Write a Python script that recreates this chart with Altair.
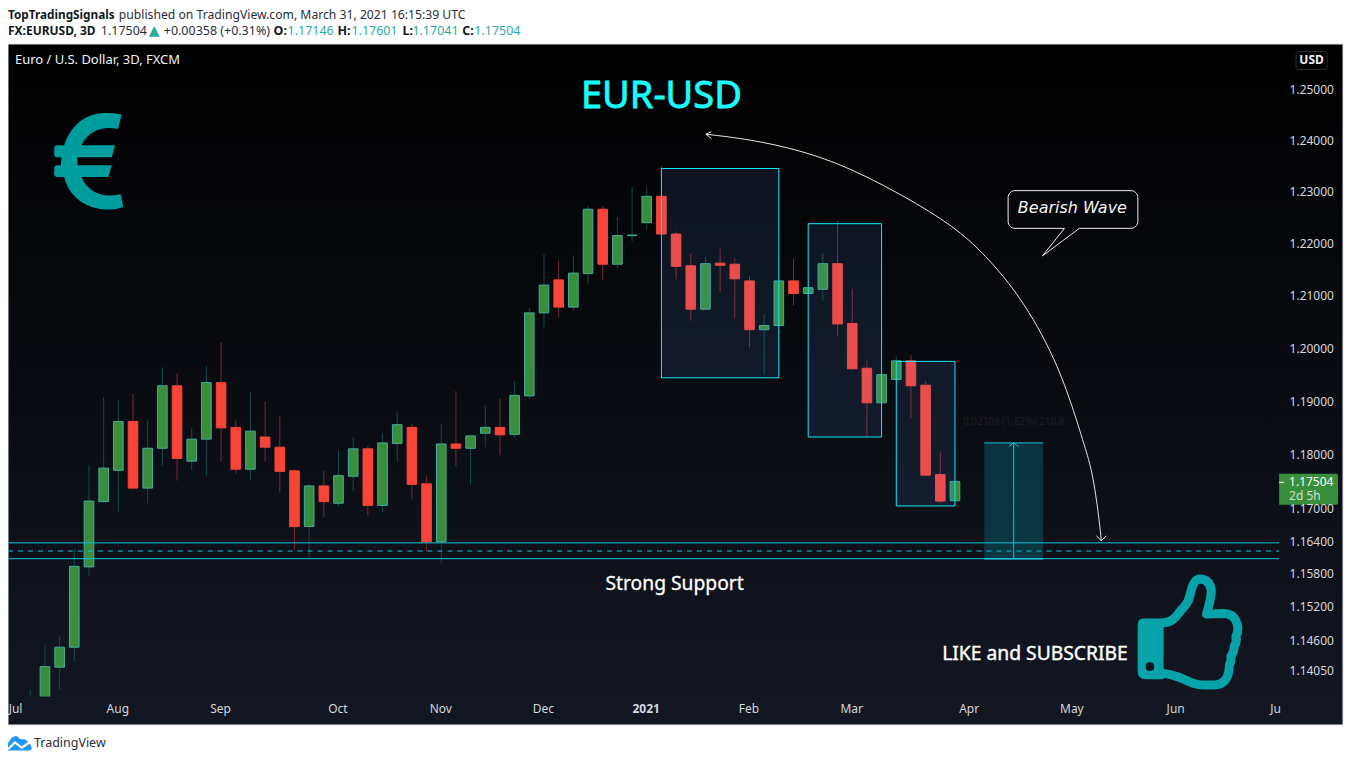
import altair as alt
import pandas as pd

# ---- candle values (3D bars, Jul 2020 - Mar 2021) ----
opens = [1.1338,1.1350,1.1411,1.1447,1.1593,1.1713,1.1771,1.1862,1.1738,1.1812,1.1929,1.1788,1.1829,1.1935,1.1851,1.1773,
         1.1833,1.1814,1.1770,1.1667,1.1742,1.1710,1.1760,1.1811,1.1706,1.1821,1.1851,1.1746,1.1639,1.1820,1.1812,1.1840,
         1.1851,1.1838,1.1910,1.2067,1.2130,1.2078,1.2142,1.2266,1.2160,1.2215,1.2240,1.2291,1.2218,1.2157,1.2074,1.2162,
         1.2160,1.2128,1.2035,1.2043,1.2128,1.2104,1.2112,1.2161,1.2047,1.1962,1.1897,1.1941,1.1976,1.1930,1.1763,1.17146]
closes = [1.1350,1.1412,1.1447,1.1594,1.1714,1.1775,1.1862,1.1738,1.1812,1.1929,1.1793,1.1829,1.1935,1.1850,1.1773,1.1844,
          1.1814,1.1769,1.1667,1.1742,1.1713,1.1761,1.1811,1.1706,1.1822,1.1856,1.1745,1.1639,1.1820,1.1812,1.1835,1.1851,
          1.1837,1.1911,1.2067,1.2120,1.2078,1.2143,1.2266,1.2160,1.2215,1.2216,1.2291,1.2218,1.2156,1.2074,1.2161,1.2158,
          1.2132,1.2035,1.2043,1.2128,1.2104,1.2115,1.2161,1.2046,1.1961,1.1897,1.1950,1.1976,1.1929,1.1762,1.1714,1.17504]
highs = [1.1371,1.1451,1.1467,1.1625,1.1781,1.1907,1.1903,1.1914,1.1864,1.1964,1.1953,1.1849,1.1966,1.2011,1.1864,1.1917,
         1.1900,1.1872,1.1773,1.1746,1.1770,1.1807,1.1832,1.1816,1.1840,1.1879,1.1858,1.1759,1.1858,1.1919,1.1837,1.1892,
         1.1905,1.1938,1.2076,1.2179,1.2167,1.2176,1.2272,1.2272,1.2251,1.2309,1.2309,1.2350,1.2223,1.2181,1.2173,1.2190,
         1.2171,1.2137,1.2065,1.2130,1.2171,1.2116,1.2181,1.2244,1.2113,1.1977,1.1950,1.1984,1.1987,1.1938,1.1806,1.1752]
lows = [1.1320,1.1330,1.1370,1.1421,1.1576,1.1710,1.1695,1.1736,1.1710,1.1780,1.1752,1.1771,1.1761,1.1787,1.1765,1.1752,
        1.1787,1.1730,1.1624,1.1608,1.1684,1.1704,1.1732,1.1688,1.1693,1.1786,1.1717,1.1621,1.1599,1.1778,1.1745,1.1814,
        1.1799,1.1832,1.1904,1.2040,1.2059,1.2071,1.2121,1.2130,1.2152,1.2204,1.2227,1.2216,1.2131,1.2052,1.2074,1.2106,
        1.2056,1.2002,1.1949,1.2040,1.2081,1.2104,1.2090,1.2024,1.1959,1.1833,1.1897,1.1941,1.1868,1.1762,1.1710,1.1714]

price_ticks = [1.25,1.24,1.23,1.22,1.21,1.20,1.19,1.18,1.17,1.164,1.158,1.152,1.146,1.1405]
time_ticks = [-1.04,5.93,12.93,20.93,27.93,34.93,41.93,48.93,55.93,63.93,70.93,78.0,84.8]
time_labels = ["Jul","Aug","Sep","Oct","Nov","Dec","2021","Feb","Mar","Apr","May","Jun","Ju"]

box_start = [43,53,59]
box_end = [51,58,63]
box_top = [1.2345,1.2238,1.1975]
box_bottom = [1.1944,1.1833,1.1705]

support_upper, support_mid, support_lower = 1.1637, 1.1622, 1.1608
measure_start, measure_mid, measure_end = 65, 67, 69
measure_top, measure_bottom = 1.1822, 1.1608

arc_x = [46.03,49.03,52.43,55.83,60.1,63.3,65.15,66.7,68.07,69.2,70.3,71.4,71.68,72.36,72.83,72.97]
arc_y = [1.2412,1.2402,1.2381,1.2347,1.2283,1.2225,1.2174,1.2124,1.2068,1.2012,1.1946,1.1856,1.1828,1.1772,1.1679,1.1641]
head1_x = [46.4,46.03,46.4]
head1_y = [1.2417,1.2412,1.2404]
head2_x = [72.63,72.97,73.3]
head2_y = [1.1650,1.1641,1.1650]
meas_head_x = [66.66,67,67.34]
meas_head_y = [1.1815,1.1822,1.1815]

bubble_x = [66.62,75.46]
bubble_y = [1.2302,1.2229]
tail_x = [70.46,68.96,71.47]
tail_y = [1.2229,1.2176,1.2229]

GREEN, GREEN_EDGE, GREEN_WICK = "#388E3C", "#45ad9f", "#0f4c4e"
RED, RED_WICK = "#F94539", "#772a30"
CYAN, BOX_EDGE, TEAL = "#12c6dc", "#14e9ff", "#009d9e"
UI_FONT = "Noto Sans"

W, H = 1273, 653
x_scale = alt.Scale(domain=[-1.517, 85.082], nice=False, zero=False, padding=0)
y_scale = alt.Scale(type="log", domain=[1.13583, 1.25889], nice=False)

def X(f, **k):
    return alt.X(f, type="quantitative", scale=x_scale, title=None, **k)
def Y(f, **k):
    return alt.Y(f, type="quantitative", scale=y_scale, title=None, **k)
def X2(f):
    return alt.X2(f)
def Y2(f):
    return alt.Y2(f)

candles = pd.DataFrame({"i": range(len(opens)), "o": opens, "c": closes, "h": highs, "l": lows})
candles["top"] = candles[["o", "c"]].max(axis=1)
candles["bot"] = candles[["o", "c"]].min(axis=1)
up = candles[candles.c >= candles.o]
down = candles[candles.c < candles.o]

one = pd.DataFrame({"a": [0]})
layers = []

# pane
layers.append(alt.Chart(one).mark_rect(
    color=alt.LinearGradient(gradient="linear", x1=0, x2=0, y1=0, y2=1,
        stops=[alt.GradientStop(color="#000000", offset=0), alt.GradientStop(color="#131722", offset=1)]),
    stroke="#dfe2ea", strokeWidth=1).encode(
    x=alt.value(0), x2=alt.value(1337), y=alt.value(-0.5), y2=alt.value(681.5)))

# header and footer text
def label(text, px, py, size=12, color="#131722", weight="normal", font=UI_FONT, align="left", style="normal"):
    return alt.Chart(one).mark_text(text=text, align=align, baseline="middle", fontSize=size, color=color,
        fontWeight=weight, font=font, fontStyle=style).encode(x=alt.value(px - 8), y=alt.value(py - 44))

num = "#2bab9c"
layers += [
    label("TopTradingSignals", 8, 14, 11.8, weight="bold"),
    label("published on TradingView.com, March 31, 2021 16:15:39 UTC", 119, 14, 12.2, "#2a2e39"),
    label("FX:EURUSD, 3D", 8, 30, 12, weight="bold"),
    label("1.17504", 101, 30, 12.5, "#2a2e39"),
    label("▲", 149, 30, 14, num, font="DejaVu Sans"),
    label("+0.00358 (+0.31%)", 164, 30, 12.5, "#2a2e39"),
    label("O:", 274, 30, 12.5, weight="bold"), label("1.17146", 288, 30, 12.5, num),
    label("H:", 338, 30, 12.5, weight="bold"), label("1.17601", 352, 30, 12.5, num),
    label("L:", 403, 30, 12.5, weight="bold"), label("1.17041", 413, 30, 12.5, num),
    label("C:", 463, 30, 12.5, weight="bold"), label("1.17504", 475, 30, 12.5, num),
    label("TradingView", 34, 744, 12.5, "#2a2e39"),
    label("Euro / U.S. Dollar, 3D, FXCM", 15, 60, 13, "#f0f3fa"),
]

# wicks (carry the axes)
x_axis = alt.Axis(values=time_ticks, grid=False, domain=False, ticks=False, labelColor="#d6d8df", labelFont=UI_FONT,
    labelFontSize=12, labelPadding=7, labelOverlap=False, labelBound=False, labelFlush=False, labelAngle=0, zindex=1,
    labelFontWeight=alt.condition("datum.value == 41.93", alt.value(700), alt.value(400)),
    labelExpr="%s[indexof(%s, datum.value)]" % (str(time_labels), str(time_ticks)))
y_axis = alt.Axis(values=price_ticks, orient="right", grid=False, domain=False, ticks=False, labelColor="#d6d8df",
    labelFont=UI_FONT, labelFontSize=12, labelPadding=10, labelOverlap=False, labelBound=False, labelFlush=False,
    format=".5f", zindex=1)
layers.append(alt.Chart(up).mark_rule(color=GREEN_WICK, strokeWidth=1, clip=True).encode(
    x=X("i", axis=x_axis), y=Y("h", axis=y_axis), y2=Y2("l")))
layers.append(alt.Chart(down).mark_rule(color=RED_WICK, strokeWidth=1, clip=True).encode(
    x=X("i"), y=Y("h"), y2=Y2("l")))

# bodies
layers.append(alt.Chart(up).mark_bar(size=9.6, clip=True, color=GREEN, stroke=GREEN_EDGE, strokeWidth=1).encode(
    x=X("i"), y=Y("top"), y2=Y2("bot")))
layers.append(alt.Chart(down).mark_bar(size=9.6, clip=True, color=RED, stroke=RED, strokeWidth=1).encode(
    x=X("i"), y=Y("top"), y2=Y2("bot")))

# support band
sup = pd.DataFrame({"a": [-1.517], "b": [85.082], "u": [support_upper], "m": [support_mid], "d": [support_lower]})
for f, dash in (("u", None), ("d", None), ("m", [5, 5])):
    kw = {"strokeDash": dash} if dash else {}
    layers.append(alt.Chart(sup).mark_rule(color=CYAN, strokeWidth=1, **kw).encode(x=X("a"), x2=X2("b"), y=Y(f)))

# bearish wave boxes
boxes = pd.DataFrame({"a": box_start, "b": box_end, "t": box_top, "d": box_bottom})
layers.append(alt.Chart(boxes).mark_rect(fill="#5ea0ff", fillOpacity=0.1, stroke=BOX_EDGE, strokeWidth=1).encode(
    x=X("a"), x2=X2("b"), y=Y("t"), y2=Y2("d")))

# measure tool
meas = pd.DataFrame({"a": [measure_start], "b": [measure_end], "m": [measure_mid], "t": [measure_top], "d": [measure_bottom]})
layers.append(alt.Chart(meas).mark_rect(fill="#00bcd4", fillOpacity=0.22).encode(
    x=X("a"), x2=X2("b"), y=Y("t"), y2=Y2("d")))
layers.append(alt.Chart(meas).mark_rule(color=CYAN, strokeWidth=1).encode(x=X("m"), y=Y("t"), y2=Y2("d")))
layers.append(alt.Chart(meas).mark_rule(color=CYAN, strokeWidth=1).encode(x=X("a"), x2=X2("b"), y=Y("t")))
layers.append(alt.Chart(meas).mark_rule(color=CYAN, strokeWidth=1.5).encode(x=X("a"), x2=X2("b"), y=Y("d")))

def polyline(xs, ys, color, width=1, interpolate=None):
    df = pd.DataFrame({"x": xs, "y": ys, "k": range(len(xs))})
    kw = {"interpolate": interpolate} if interpolate else {}
    return alt.Chart(df).mark_line(color=color, strokeWidth=width, **kw).encode(
        x=X("x"), y=Y("y"), order=alt.Order("k:Q"))

layers.append(polyline(meas_head_x, meas_head_y, CYAN))
layers.append(polyline(arc_x, arc_y, "#e6e6e6", 1, "basis"))
layers.append(polyline(head1_x, head1_y, "#e6e6e6"))
layers.append(polyline(head2_x, head2_y, "#e6e6e6"))

# callout
bub = pd.DataFrame({"a": [bubble_x[0]], "b": [bubble_x[1]], "t": [bubble_y[0]], "d": [bubble_y[1]]})
layers.append(alt.Chart(bub).mark_rect(fill="#05060a", stroke="#f0f0f0", strokeWidth=1, cornerRadius=7).encode(
    x=X("a"), x2=X2("b"), y=Y("t"), y2=Y2("d")))
gap = pd.DataFrame({"a": [tail_x[0]], "b": [tail_x[2]], "y": [tail_y[0]]})
layers.append(alt.Chart(gap).mark_rule(color="#05060a", strokeWidth=2).encode(x=X("a"), x2=X2("b"), y=Y("y")))
layers.append(polyline(tail_x, tail_y, "#f0f0f0"))

def note(text, i, p, size, color="#ffffff", font=UI_FONT, weight="normal", style="normal", thicken=0):
    df = pd.DataFrame({"x": [i], "y": [p]})
    kw = {"stroke": color, "strokeWidth": thicken} if thicken else {}
    return alt.Chart(df).mark_text(text=text, fontSize=size, color=color, font=font, fontWeight=weight,
        fontStyle=style, align="center", baseline="middle", **kw).encode(x=X("x"), y=Y("y"))

layers += [
    note("EUR-USD", 43.0, 1.2486, 38, "#17fdfd", thicken=0.8),
    note("Strong Support", 43.9, 1.1561, 19.3, thicken=0.3),
    note("LIKE and SUBSCRIBE", 68.45, 1.1434, 19.3, thicken=0.4),
    note("Bearish Wave", 71.0, 1.2268, 16, "#f5f5f5", font="DejaVu Sans", style="italic"),
    note("0.02108 (1.82%) 210.8", 67.0, 1.1861, 10, "#1b1e24"),
]

# icons
def icon(path, i, p, fill=None, stroke=None, width=0):
    df = pd.DataFrame({"x": [i], "y": [p]})
    kw = {"fill": fill, "filled": True} if fill else {"filled": False}
    if stroke:
        kw.update(stroke=stroke, strokeWidth=width, strokeJoin="round", strokeCap="round")
    else:
        kw.update(strokeWidth=0)
    return alt.Chart(df).mark_point(shape=path, size=4, opacity=1, **kw).encode(x=X("x"), y=Y("y"))

EURO = ("M32.7,-47 Q25,-48.3 16.7,-48.3 C-8,-48.3 -20,-31 -25,-16 L-31.7,-16 Q-35,-16 -35,-12.7 L-35,-7.7 Q-35,-4 -31.7,-4 "
        "L-27.7,-4 L-28.3,4 L-31.7,4 Q-35,4 -35,7.3 L-35,12.3 Q-35,15.7 -31.7,15.7 L-25,15.7 C-20,35.7 -3.3,48.3 20,48.3 "
        "Q27.7,48.3 34.3,45.7 L31.7,33 Q26,34.3 20,34.3 C8.3,34.3 -3.3,27.3 -7.7,15.7 L19.3,15.7 L22.7,4 L-11.7,4 L-11.7,-4 "
        "L22.7,-4 L26,-16 L-7.7,-16 C-1.7,-28 8.3,-33.3 20,-33.3 L29,-32.7 Z")
THUMB = ("M-22.3,-10.7 Q-15,-11 -10,-16.7 L-3.3,-25 Q1,-29 2.5,-33 L5,-41.7 Q8,-55 15,-54.5 Q25,-53 25.5,-42 "
         "Q25,-34 20.7,-19.3 L38,-20 Q47,-20 50.5,-12 Q54,-5 50,3.3 Q51.5,8 48.5,13 Q48.5,18 45,23.3 Q46,27 43.5,32 "
         "Q43.5,41 40,46 Q36,51.5 28,51.7 L20,51.7 Q11,51.5 5,49 L-8.3,43.3 Q-15,41 -22.3,40")
CUFF = ("M-43,-15 L-22.3,-15 L-22.3,46 L-40,46 Q-48.3,46 -48.3,38 L-48.3,-8 Q-48.3,-15 -43,-15 Z "
        "M-36,29 Q-40.3,29 -40.3,33.3 Q-40.3,37.6 -36,37.6 Q-31.7,37.6 -31.7,33.3 Q-31.7,29 -36,29 Z")
LOGO = "M-13,2.3 L-7.3,-5.7 L-3,-7.7 L1.7,-4.3 L6,-4.3 L11,0 L13,5 L11,7 L-10.7,7 L-13,5 Z"
LOGO_LINE = "M-11,5.7 L-4,-1 L2.7,4.3 L11.7,-1.7"

layers.append(icon(EURO, 4.01, 1.2359, fill=TEAL))
layers.append(icon(THUMB, 78.73, 1.1472, stroke="#08a3a8", width=9))
layers.append(icon(CUFF, 78.73, 1.1472, fill="#08a3a8"))

# footer logo, pixel furniture
for path, kw in ((LOGO, {"fill": "#2196f3", "filled": True, "strokeWidth": 0}),
                 (LOGO_LINE, {"filled": False, "stroke": "#ffffff", "strokeWidth": 2.2})):
    layers.append(alt.Chart(one).mark_point(shape=path, size=4, opacity=1, **kw).encode(
        x=alt.value(19 - 8), y=alt.value(744 - 44)))

# USD badge
layers.append(alt.Chart(one).mark_rect(fill="#000000", stroke="#2a2e39", strokeWidth=1, cornerRadius=3).encode(
    x=alt.value(1298 - 8), x2=alt.value(1329 - 8), y=alt.value(51 - 44), y2=alt.value(69 - 44)))
layers.append(label("USD", 1313.5, 60, 12, "#f0f3fa", weight="bold", align="center"))

# last price tag
layers.append(alt.Chart(one).mark_rect(fill=GREEN, cornerRadiusTopRight=2, cornerRadiusBottomRight=2).encode(
    x=alt.value(1281 - 8), x2=alt.value(1340 - 8), y=alt.value(474 - 44), y2=alt.value(505 - 44)))
layers.append(alt.Chart(one).mark_rule(color="#ffffff", strokeWidth=1).encode(
    x=alt.value(1281 - 8), x2=alt.value(1286 - 8), y=alt.value(482.5 - 44)))
layers.append(label("1.17504", 1291, 482, 12, "#ffffff"))
layers.append(label("2d 5h", 1291, 496.5, 12, "#cfe3d0"))

chart = alt.layer(*layers).properties(
    width=W, height=H,
    padding={"left": 0, "top": 36, "right": 65, "bottom": 55},
    autosize=alt.AutoSizeParams(type="none"),
    background="#ffffff",
).configure_view(stroke=None)

chart.save("out.html", embed_options={"renderer": "svg", "actions": False})
